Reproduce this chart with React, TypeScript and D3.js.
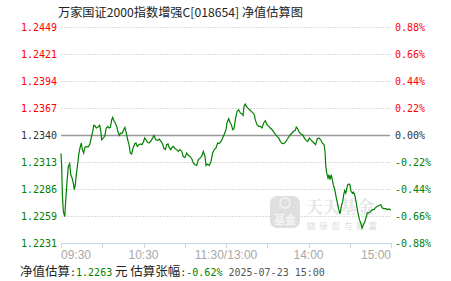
import React from "react";
import * as d3 from "d3";

const titleText = "万家国证2000指数增强C[018654] 净值估算图";
const tickPcts = [0.88, 0.66, 0.44, 0.22, 0, -0.22, -0.44, -0.66, -0.88];
const leftTickLabels = ["1.2449", "1.2421", "1.2394", "1.2367", "1.2340", "1.2313", "1.2286", "1.2259", "1.2231"];
const rightTickLabels = ["0.88%", "0.66%", "0.44%", "0.22%", "0.00%", "-0.22%", "-0.44%", "-0.66%", "-0.88%"];
const timeTicks = [0, 30, 60, 90, 120, 150, 180, 210, 240];
const timeLabelMins = [0, 60, 120, 180, 240];
const timeLabels = ["09:30", "10:30", "11:30/13:00", "14:00", "15:00"];

const minutes = [
  0, 0.5, 1, 1.7, 2.7, 3.4, 4.4, 5.3, 6.3, 7.1, 8.0, 8.9, 9.7, 10.4, 11.1, 12.1, 12.9, 13.8, 14.8, 15.5,
  16.5, 17.2, 18.2, 19.6, 20.9, 22.0, 23.1, 23.8, 24.7, 25.7, 26.9, 28.1, 28.9, 29.6, 30.8, 31.8, 32.9, 34.0, 34.9, 35.9,
  36.9, 37.6, 38.5, 39.5, 40.5, 41.5, 42.4, 43.4, 44.6, 45.6, 46.5, 47.5, 48.5, 49.5, 50.4, 51.4, 52.4, 53.6, 54.5, 55.5,
  56.7, 58.0, 58.9, 59.9, 60.9, 61.8, 62.8, 64.0, 65.2, 66.4, 67.6, 68.9, 70.3, 71.5, 72.7, 73.9, 74.9, 75.9, 76.9, 77.8,
  78.8, 79.8, 80.7, 81.7, 82.9, 84.1, 85.3, 86.5, 87.8, 88.9, 90.2, 91.4, 92.6, 93.8, 95.1, 96.2, 97.5, 98.7, 99.9, 101.1,
  102.3, 103.5, 104.7, 105.5, 106.7, 107.9, 109.1, 110.3, 111.5, 112.7, 113.9, 115.1, 116.4, 117.6, 118.8, 120, 120.7, 122.0, 123.1, 123.9,
  124.9, 125.8, 126.8, 128.0, 129.2, 130.4, 131.6, 132.4, 133.1, 134.0, 134.8, 136.0, 137.2, 138.4, 139.6, 140.6, 141.3, 142.5, 143.8, 144.9,
  146.2, 147.4, 148.6, 149.8, 151.1, 152.2, 153.5, 154.7, 155.9, 157.1, 158.3, 159.5, 160.7, 162.0, 163.1, 164.4, 165.6, 166.8, 168.0, 169.2,
  170.4, 171.1, 172.1, 173.3, 174.5, 175.8, 176.9, 178.2, 179.4, 180.6, 181.8, 182.8, 184.0, 185.2, 186.4, 187.6, 188.9, 190.0, 191.3, 192.0,
  192.5, 193.2, 194.2, 194.9, 195.6, 196.6, 197.3, 198.0, 199.1, 200.0, 201.0, 202.0, 202.9, 203.9, 204.9, 205.6, 206.3, 207.1, 207.8, 208.5,
  209.5, 210.2, 210.9, 211.9, 212.6, 213.6, 214.3, 215.1, 216.0, 217.0, 218.0, 218.9, 219.9, 220.9, 221.8, 222.8, 224.0, 225.2, 226.4, 227.6,
  228.9, 230.0, 231.3, 232.5, 233.7, 234.9, 236.2, 237.3, 238.5, 239.3, 240,
];

const changePct = [
  -0.15, -0.264, -0.486, -0.623, -0.664, -0.541, -0.378, -0.256, -0.234, -0.324, -0.348, -0.391, -0.446, -0.405, -0.324, -0.242, -0.16, -0.106, -0.065, -0.119,
  -0.147, -0.106, -0.093, -0.098, -0.079, -0.024, 0.03, 0.079, 0.076, 0.057, 0.065, 0.079, 0.035, -0.039, -0.024, -0.011, 0.057, 0.07, 0.057, 0.062,
  0.125, 0.143, 0.116, 0.098, 0.07, 0.024, -0.003, 0.016, 0.016, 0.043, 0.062, 0.016, -0.039, -0.079, -0.147, -0.155, -0.106, -0.073, -0.065, -0.093,
  -0.079, -0.073, -0.079, -0.057, -0.024, -0.039, -0.057, -0.065, -0.052, -0.03, -0.003, -0.039, -0.044, -0.033, -0.052, -0.073, -0.111, -0.119, -0.079, -0.073,
  -0.106, -0.119, -0.101, -0.093, -0.111, -0.119, -0.134, -0.119, -0.134, -0.175, -0.183, -0.147, -0.166, -0.175, -0.193, -0.228, -0.242, -0.248, -0.201, -0.188,
  -0.175, -0.134, -0.175, -0.248, -0.236, -0.248, -0.215, -0.147, -0.119, -0.106, -0.065, -0.07, -0.052, -0.024, 0.008, 0.043, 0.098, 0.133, 0.098, 0.084,
  0.043, 0.051, 0.125, 0.192, 0.206, 0.18, 0.171, 0.159, 0.233, 0.252, 0.233, 0.219, 0.206, 0.192, 0.18, 0.165, 0.125, 0.084, 0.07, 0.07,
  0.057, 0.098, 0.116, 0.084, 0.07, 0.057, 0.043, 0.024, 0.008, -0.011, -0.024, -0.052, -0.068, -0.07, -0.06, -0.039, -0.016, 0.002, 0.016, 0.03,
  0.038, 0.065, 0.051, 0.024, 0.008, 0.002, -0.024, -0.044, -0.052, -0.024, -0.039, -0.052, -0.065, -0.079, -0.03, -0.024, -0.039, -0.065, -0.079, -0.134,
  -0.242, -0.309, -0.35, -0.324, -0.364, -0.324, -0.364, -0.405, -0.446, -0.5, -0.554, -0.608, -0.643, -0.582, -0.541, -0.486, -0.453, -0.473, -0.438, -0.405,
  -0.399, -0.41, -0.459, -0.473, -0.465, -0.486, -0.527, -0.582, -0.635, -0.69, -0.717, -0.758, -0.731, -0.709, -0.676, -0.635, -0.635, -0.623, -0.608, -0.608,
  -0.59, -0.582, -0.574, -0.568, -0.595, -0.6, -0.6, -0.608, -0.603, -0.608, -0.61,
];

const navEstimate = "1.2263";
const changeText = "-0.62%";
const timestamp = "2025-07-23 15:00";

const W = 451;
const H = 281;
const MONO = "'DejaVu Sans Mono', monospace";
const CJK = "'Noto Sans CJK SC', sans-serif";
const GREEN = "#008000";
const RED = "#ff0000";

export default function App() {
  const x = d3.scaleLinear().domain([0, 240]).range([61, 391]);
  const y = d3.scaleLinear().domain([-0.88, 0.88]).range([243, 27]);
  const data = minutes.map((m, i) => [m, changePct[i]] as [number, number]);
  const line = d3
    .line<[number, number]>()
    .x((d) => x(d[0]))
    .y((d) => y(d[1]));
  const colorFor = (v: number) => (v > 0 ? RED : v < 0 ? GREEN : "#333");

  return (
    <svg
      width={W}
      height={H}
      style={{ position: "absolute", left: 0, top: 0, background: "#fff" }}
    >
      <text x={58} y={16.5} fontFamily={CJK} fontSize={12.2} fill="#222">
        {titleText}
      </text>

      {tickPcts.map((p, i) => {
        const yy = Math.round(y(p)) + 0.5;
        return (
          <g key={"t" + i}>
            {p !== 0 && p !== -0.88 && (
              <line x1={61} x2={390} y1={yy} y2={yy} stroke="#dcdcdc" strokeWidth={1} strokeDasharray="2,1" />
            )}
            <text x={57} y={yy} dy="0.35em" textAnchor="end" fontFamily={MONO} fontSize={10} fill={colorFor(p)}>
              {leftTickLabels[i]}
            </text>
            <text x={395} y={yy} dy="0.35em" textAnchor="start" fontFamily={MONO} fontSize={10} fill={colorFor(p)}>
              {rightTickLabels[i]}
            </text>
          </g>
        );
      })}

      {/* watermark */}
      <g opacity={0.85}>
        <rect x={270} y={196} width={30} height={32} rx={7} fill="#dadada" />
        <circle cx={285} cy={203} r={5} fill="none" stroke="#f2f2f2" strokeWidth={1.5} />
        <text x={285} y={224} textAnchor="middle" fontFamily={CJK} fontWeight="bold" fontSize={11} fill="#f4f4f4">
          基金
        </text>
        <text x={306} y={212.5} fontFamily="'Noto Serif CJK SC', 'Noto Sans CJK SC', serif" fontWeight="bold" fontSize={17} fill="#e0e0e0">
          天天基金
        </text>
        <text x={307} y={229} fontFamily={CJK} fontSize={8.5} letterSpacing={3.8} fill="#d4d4d4">
          链接您与财富
        </text>
      </g>

      <line x1={61} x2={390} y1={Math.round(y(0)) + 0.5} y2={Math.round(y(0)) + 0.5} stroke="#999" strokeWidth={1.5} />

      <line x1={61} x2={391} y1={243.5} y2={243.5} stroke="#c9d6e3" strokeWidth={1} />
      {timeTicks.map((m) => (
        <line key={"k" + m} x1={Math.round(x(m)) + 0.5} x2={Math.round(x(m)) + 0.5} y1={243} y2={248} stroke="#c9d6e3" strokeWidth={1} />
      ))}
      {timeLabelMins.map((m, i) => (
        <text
          key={"l" + m}
          x={x(m)}
          y={258.5}
          textAnchor={i === 0 ? "start" : i === timeLabelMins.length - 1 ? "end" : "middle"}
          fontFamily="'Liberation Sans', Arial, sans-serif"
          fontSize={12}
          fill="#a8a8a8"
        >
          {timeLabels[i]}
        </text>
      ))}

      <path d={line(data) || ""} fill="none" stroke={GREEN} strokeWidth={1.2} />

      <text x={20} y={275.5} fontSize={12.5}>
        <tspan fontFamily={CJK} fill="#222">净值估算</tspan>
        <tspan fontFamily={MONO} fontSize={10} fill="#222">:</tspan>
        <tspan fontFamily={MONO} fontSize={10} fill={GREEN}>{navEstimate}</tspan>
        <tspan fontFamily={CJK} fill="#222"> 元 估算张幅</tspan>
        <tspan fontFamily={MONO} fontSize={10} fill="#222">:</tspan>
        <tspan fontFamily={MONO} fontSize={10} fill={GREEN}>{changeText}</tspan>
        <tspan fontFamily={MONO} fontSize={10} fill="#555"> {timestamp}</tspan>
      </text>
    </svg>
  );
}
